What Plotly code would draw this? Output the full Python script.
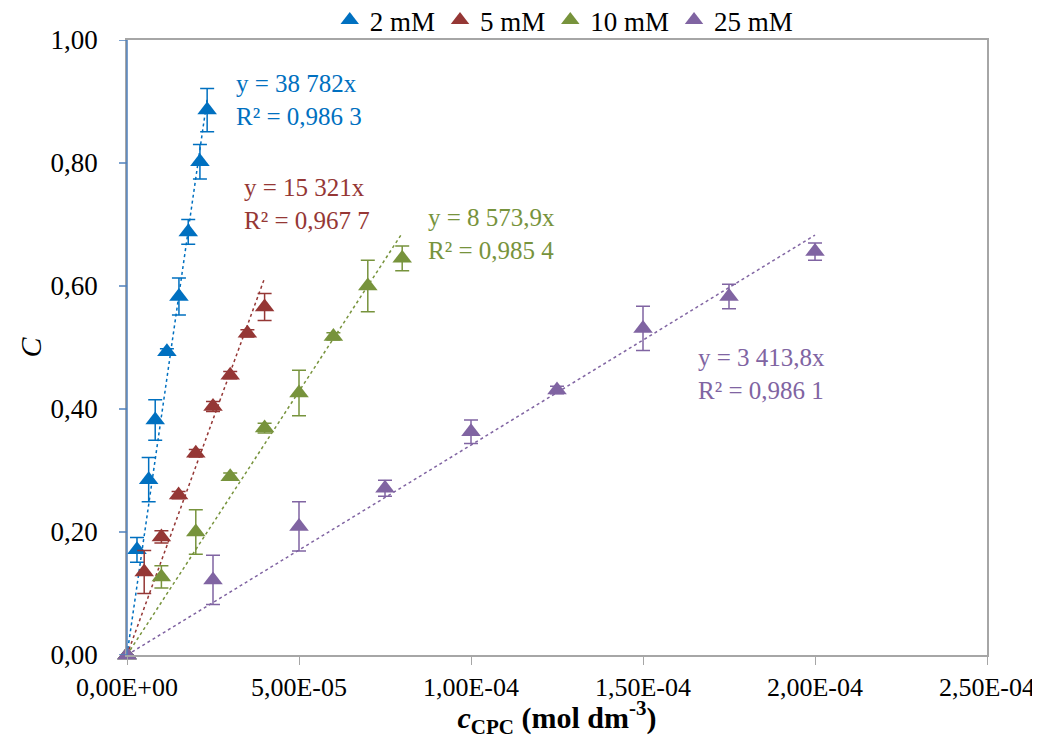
import plotly.graph_objects as go

# ---- data ----
series_names = ["2 mM", "5 mM", "10 mM", "25 mM"]
colors = ["#0070C0", "#953735", "#77933C", "#8064A2"]

x_2mM = [0, 2.9e-6, 6.3e-6, 8.2e-6, 1.16e-5, 1.51e-5, 1.78e-5, 2.12e-5, 2.33e-5]
y_2mM = [0, 0.171, 0.285, 0.382, 0.493, 0.583, 0.688, 0.802, 0.886]
e_2mM = [0, 0.020, 0.036, 0.033, 0.005, 0.030, 0.020, 0.028, 0.035]

x_5mM = [0, 5e-6, 1e-5, 1.5e-5, 2e-5, 2.5e-5, 3e-5, 3.5e-5, 4e-5]
y_5mM = [0, 0.135, 0.192, 0.260, 0.328, 0.404, 0.455, 0.523, 0.566]
e_5mM = [0, 0.035, 0.010, 0.006, 0.006, 0.008, 0.006, 0.006, 0.022]

x_10mM = [0, 1e-5, 2e-5, 3e-5, 4e-5, 5e-5, 6e-5, 7e-5, 8e-5]
y_10mM = [0, 0.127, 0.200, 0.290, 0.369, 0.426, 0.518, 0.600, 0.645]
e_10mM = [0, 0.018, 0.036, 0.006, 0.008, 0.037, 0.006, 0.042, 0.020]

x_25mM = [0, 2.5e-5, 5e-5, 7.5e-5, 1e-4, 1.25e-4, 1.5e-4, 1.75e-4, 2e-4]
y_25mM = [0, 0.122, 0.209, 0.271, 0.363, 0.431, 0.531, 0.583, 0.656]
e_25mM = [0, 0.040, 0.040, 0.013, 0.019, 0.006, 0.036, 0.020, 0.014]

slopes = [38782, 15321, 8573.9, 3413.8]
eq_texts = ["y = 38 782x<br>R² = 0,986 3", "y = 15 321x<br>R² = 0,967 7",
            "y = 8 573,9x<br>R² = 0,985 4", "y = 3 413,8x<br>R² = 0,986 1"]
eq_pos = [(3.1e-5, 0.955), (3.35e-5, 0.785), (8.7e-5, 0.737), (1.655e-4, 0.509)]

x_ticks = [0, 5e-5, 1e-4, 1.5e-4, 2e-4, 2.5e-4]
x_ticktext = ["0,00E+00", "5,00E-05", "1,00E-04", "1,50E-04", "2,00E-04", "2,50E-04"]
y_ticks = [0, 0.2, 0.4, 0.6, 0.8, 1.0]
y_ticktext = ["0,00", "0,20", "0,40", "0,60", "0,80", "1,00"]

xs = [x_2mM, x_5mM, x_10mM, x_25mM]
ys = [y_2mM, y_5mM, y_10mM, y_25mM]
es = [e_2mM, e_5mM, e_10mM, e_25mM]

FONT = "Liberation Serif"

fig = go.Figure()

# trendlines
for i in range(4):
    xmax = max(xs[i])
    fig.add_trace(go.Scatter(
        x=[0, xmax], y=[0, slopes[i] * xmax], mode="lines",
        line=dict(color=colors[i], width=1.5, dash="dot"),
        showlegend=False, hoverinfo="skip", cliponaxis=False))

# data points
for i in range(4):
    fig.add_trace(go.Scatter(
        x=xs[i], y=ys[i], mode="markers", name=series_names[i],
        marker=dict(symbol="triangle-up", size=17, color=colors[i]),
        error_y=dict(type="data", array=es[i], visible=True,
                     color=colors[i], thickness=1.5, width=7),
        cliponaxis=False))

for i in range(4):
    fig.add_annotation(x=eq_pos[i][0], y=eq_pos[i][1], text=eq_texts[i],
                       showarrow=False, xanchor="left", yanchor="top", align="left",
                       font=dict(family=FONT, size=25, color=colors[i]))

fig.update_layout(
    width=1032, height=731,
    margin=dict(l=119, r=53, t=32, b=84, autoexpand=False),
    paper_bgcolor="white", plot_bgcolor="white",
    font=dict(family=FONT, size=27, color="black"),
    legend=dict(orientation="h", xref="container", yref="container",
                x=0.539, xanchor="center", y=0.983, yanchor="middle",
                font=dict(family=FONT, size=27), itemwidth=30,
                tracegroupgap=0, bgcolor="rgba(0,0,0,0)"),
    showlegend=True,
)

fig.update_xaxes(
    range=[0, 2.5e-4], tickvals=x_ticks, ticktext=x_ticktext, automargin=False,
    ticklabeloverflow="allow",
    showgrid=False, zeroline=False, showline=True, linecolor="#A6A6A6", linewidth=1.5,
    mirror=True, ticks="outside", tickcolor="#A6A6A6", ticklen=8,
    tickfont=dict(family=FONT, size=26),
    title=dict(text="<b><i>c</i><sub>CPC</sub> (mol dm<sup>-3</sup>)</b>",
               font=dict(family=FONT, size=30), standoff=0),
)
fig.update_yaxes(
    range=[0, 1.0], tickvals=y_ticks, ticktext=y_ticktext, automargin=False,
    ticklabeloverflow="allow",
    showgrid=False, zeroline=False, showline=True, linecolor="#A6A6A6", linewidth=1.5,
    mirror=True, ticks="outside", tickcolor="rgba(0,0,0,0)", ticklen=22,
    tickfont=dict(family=FONT, size=27),
    title=dict(text="<i>C</i>", font=dict(family=FONT, size=30), standoff=0),
)

# blue left axis line with ticks (as in reference)
fig.add_shape(type="line", xref="x domain", yref="y domain", x0=0, x1=0, y0=0, y1=1,
              line=dict(color="#4F81BD", width=1.5))
for yt in y_ticks:
    fig.add_shape(type="line", xref="x domain", yref="y", x0=-0.0093, x1=0, y0=yt, y1=yt,
                  line=dict(color="#4F81BD", width=1.5))

fig.write_html("out.html")
